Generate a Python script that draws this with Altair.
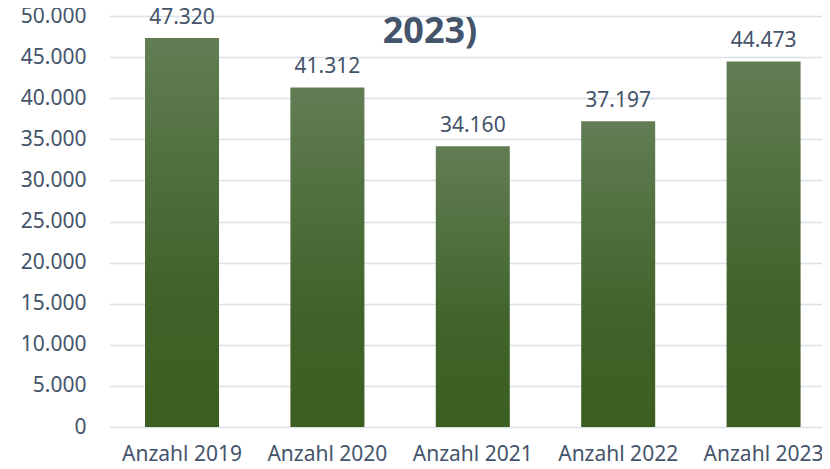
import altair as alt
import pandas as pd

categories = ["Anzahl 2019", "Anzahl 2020", "Anzahl 2021", "Anzahl 2022", "Anzahl 2023"]
values = [47320, 41312, 34160, 37197, 44473]
y_ticks = [0, 5000, 10000, 15000, 20000, 25000, 30000, 35000, 40000, 45000, 50000]
title_text = "2023)"

df = pd.DataFrame({"cat": categories, "val": values})

TEXT = "#44546A"
FONT = "Noto Sans"

x_enc = alt.X(
    "cat:N",
    sort=categories,
    title=None,
    scale=alt.Scale(paddingInner=0.491, paddingOuter=0.1975, align=0.627),
    axis=alt.Axis(
        labelAngle=0,
        labelFont=FONT,
        labelFontSize=21,
        labelColor=TEXT,
        labelPadding=16,
        ticks=False,
        tickSize=0,
        domain=False,
        grid=False,
    ),
)
y_enc = alt.Y(
    "val:Q",
    title=None,
    scale=alt.Scale(domain=[0, 50000], nice=False),
    axis=alt.Axis(
        values=y_ticks,
        format=",.0f",
        labelFont=FONT,
        labelFontSize=21,
        labelColor=TEXT,
        labelPadding=23,
        ticks=False,
        tickSize=0,
        domain=False,
        grid=True,
        gridColor="#DCE0E7",
        gridWidth=1.6,
    ),
)

gradient = alt.Gradient(
    gradient="linear",
    x1=0, x2=0, y1=0, y2=1,
    stops=[
        alt.GradientStop(color="#627D54", offset=0),
        alt.GradientStop(color="#4F6F3C", offset=0.35),
        alt.GradientStop(color="#41632A", offset=0.65),
        alt.GradientStop(color="#3C5E20", offset=1),
    ],
)

bars = alt.Chart(df).mark_bar(color=gradient).encode(x=x_enc, y=y_enc)

labels = alt.Chart(df).mark_text(
    font=FONT, fontSize=21, color=TEXT, baseline="alphabetic", dy=-14.5
).encode(
    x=alt.X("cat:N", sort=categories),
    y="val:Q",
    text=alt.Text("val:Q", format=",.0f"),
)

title = alt.Chart(pd.DataFrame({"t": [title_text]})).mark_text(
    font=FONT, fontSize=36, fontWeight="bold", color=TEXT, baseline="alphabetic", align="center"
).encode(
    x=alt.value(321),
    y=alt.value(27),
    text="t:N",
)

chart = (
    alt.layer(bars, labels, title)
    .properties(
        width=713,
        height=411,
        autosize=alt.AutoSizeParams(type="none"),
        padding={"left": 101, "top": 8, "right": 0, "bottom": 34},
    )
    .configure(
        locale={"number": {"decimal": ",", "thousands": ".", "grouping": [3], "currency": ["", " €"]}}
    )
    .configure_view(stroke=None)
)

chart.save("out.html", embed_options={"renderer": "svg", "actions": False})
